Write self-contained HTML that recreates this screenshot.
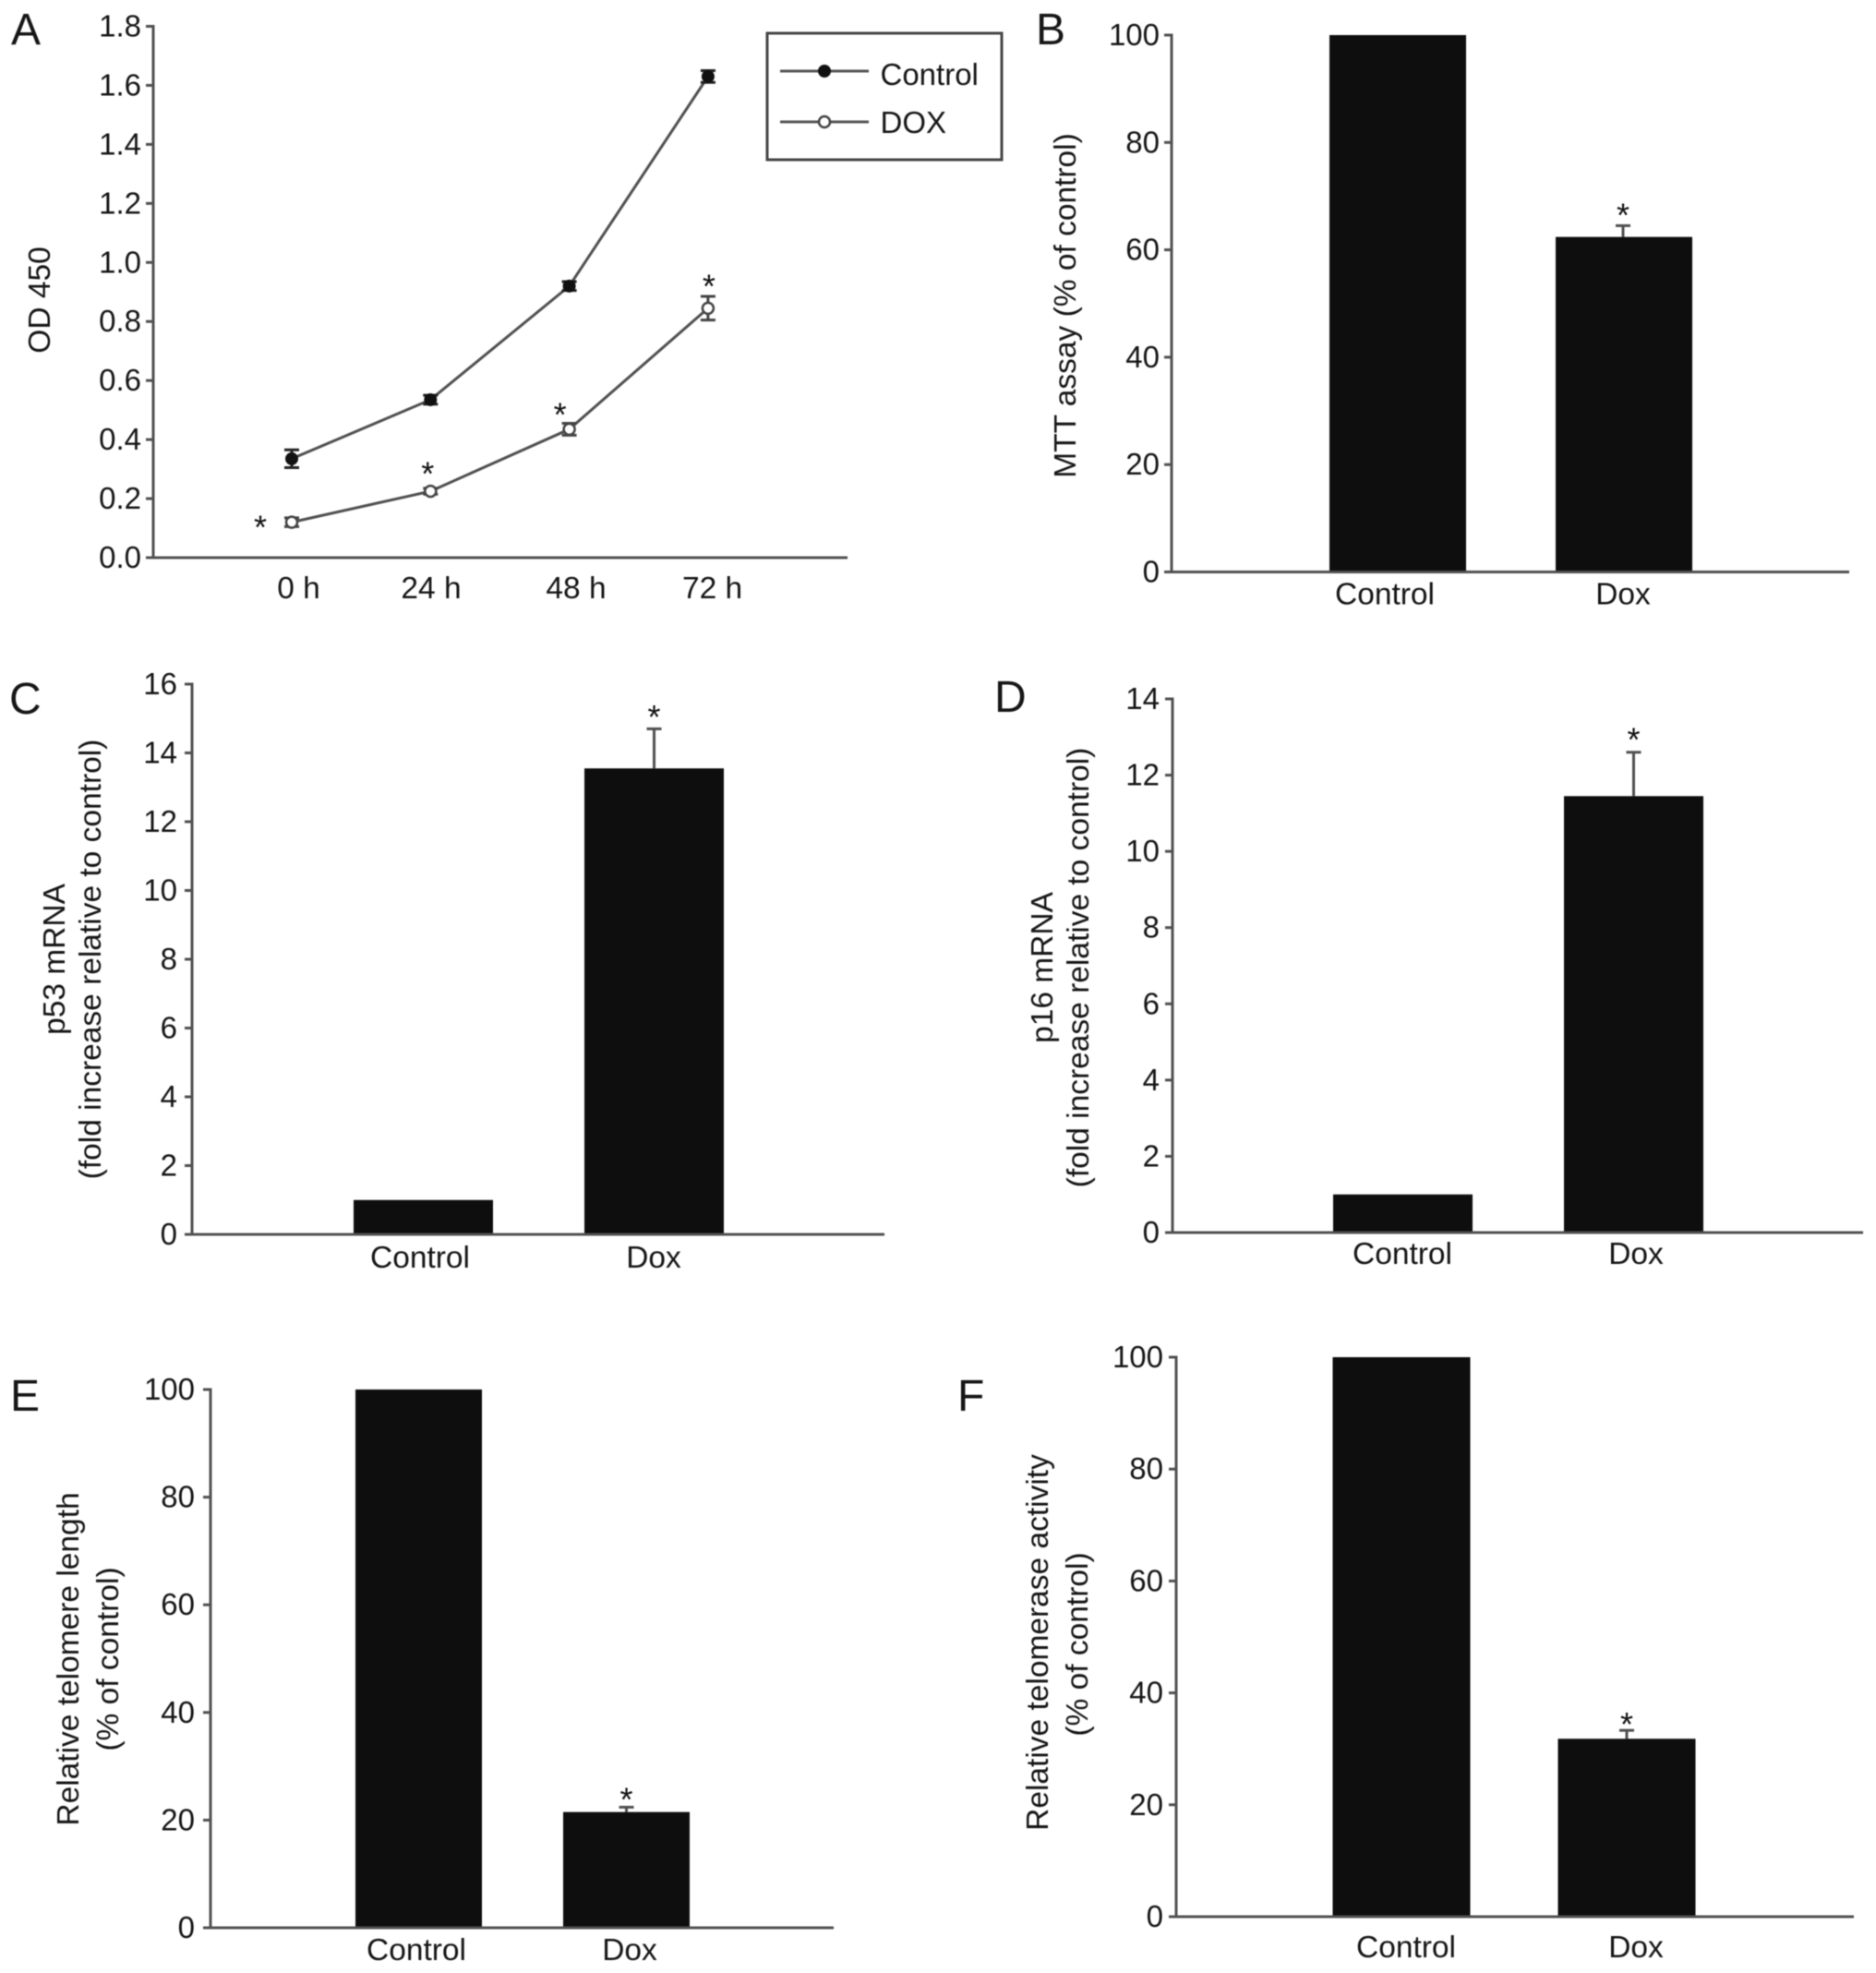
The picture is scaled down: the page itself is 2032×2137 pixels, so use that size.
<!DOCTYPE html>
<html lang="en">
<head>
<meta charset="utf-8">
<title>Doxorubicin assay figure panels A-F</title>
<style>
html,body{margin:0;padding:0;background:#fff;width:2032px;height:2137px;overflow:hidden}
svg{display:block;filter:blur(0.6px)}
text{font-family:"Liberation Sans",Arial,sans-serif;fill:#161616}
.tick{font-size:33px}
.title{font-size:33.5px;text-anchor:middle}
.letter{font-size:48px}
.cat{font-size:33.5px;text-anchor:middle}
.star{font-size:36px;text-anchor:middle;fill:#111}
</style>
</head>
<body>
<svg id="figure" xmlns="http://www.w3.org/2000/svg" width="2032" height="2137" viewBox="0 0 2032 2137">
  <rect x="0" y="0" width="2032" height="2137" fill="#fff"/>

  <g id="panel-a">
    <text class="letter" x="12" y="48">A</text>
    <text class="title" transform="translate(54,325) rotate(-90)">OD 450</text>
    <g>
      <rect x="831" y="36" width="254" height="137" fill="#fff" stroke="#444" stroke-width="3"/>
      <line x1="845" y1="77" x2="941" y2="77" stroke="#555" stroke-width="3"/>
      <circle cx="893" cy="77" r="7" fill="#111"/>
      <text x="953.5" y="92" font-size="33">Control</text>
      <line x1="845" y1="132" x2="941" y2="132" stroke="#555" stroke-width="3"/>
      <circle cx="893" cy="132" r="6" fill="#fff" stroke="#444" stroke-width="2.5"/>
      <text x="953.5" y="144" font-size="33">DOX</text>
    </g>
  </g>

  <g id="panel-b">
    <text class="letter" x="1122" y="48">B</text>
    <text class="title" transform="translate(1165,331) rotate(-90)">MTT assay (% of control)</text>
  </g>

  <g id="panel-c">
    <text class="letter" x="10" y="773">C</text>
    <text class="title" transform="translate(70,1039) rotate(-90)">p53 mRNA</text>
    <text class="title" transform="translate(109,1039) rotate(-90)">(fold increase relative to control)</text>
  </g>

  <g id="panel-d">
    <text class="letter" x="1077" y="771">D</text>
    <text class="title" transform="translate(1140,1048) rotate(-90)">p16 mRNA</text>
    <text class="title" transform="translate(1179,1048) rotate(-90)">(fold increase relative to control)</text>
  </g>

  <g id="panel-e">
    <text class="letter" x="11" y="1528">E</text>
    <text class="title" transform="translate(85,1797) rotate(-90)">Relative telomere length</text>
    <text class="title" transform="translate(128,1797) rotate(-90)">(% of control)</text>
  </g>

  <g id="panel-f">
    <text class="letter" x="1037" y="1528">F</text>
    <text class="title" transform="translate(1135,1779) rotate(-90)">Relative telomerase activity</text>
    <text class="title" transform="translate(1178,1781) rotate(-90)">(% of control)</text>
  </g>
</svg>

<script>
// Panel A data
const timeCategories = ['0 h', '24 h', '48 h', '72 h'];
const controlValues = [0.335, 0.535, 0.92, 1.63];
const controlErrors = [0.03, 0.015, 0.015, 0.02];
const doxValues = [0.12, 0.225, 0.435, 0.845];
const doxErrors = [0.015, 0.01, 0.02, 0.04];
const panelATickLabels = ['0.0', '0.2', '0.4', '0.6', '0.8', '1.0', '1.2', '1.4', '1.6', '1.8'];

// Bar panels data
const barCategoriesB = ['Control', 'Dox'];
const barValuesB = [100, 62.4];
const barErrorsB = [0, 2.1];
const barStarsB = ['', '*'];
const tickLabelsB = ['0', '20', '40', '60', '80', '100'];

const barCategoriesC = ['Control', 'Dox'];
const barValuesC = [1, 13.55];
const barErrorsC = [0, 1.15];
const barStarsC = ['', '*'];
const tickLabelsC = ['0', '2', '4', '6', '8', '10', '12', '14', '16'];

const barCategoriesD = ['Control', 'Dox'];
const barValuesD = [1, 11.45];
const barErrorsD = [0, 1.15];
const barStarsD = ['', '*'];
const tickLabelsD = ['0', '2', '4', '6', '8', '10', '12', '14'];

const barCategoriesE = ['Control', 'Dox'];
const barValuesE = [100, 21.5];
const barErrorsE = [0, 0.9];
const barStarsE = ['', '*'];
const tickLabelsE = ['0', '20', '40', '60', '80', '100'];

const barCategoriesF = ['Control', 'Dox'];
const barValuesF = [100, 31.8];
const barErrorsF = [0, 1.5];
const barStarsF = ['', '*'];
const tickLabelsF = ['0', '20', '40', '60', '80', '100'];

const SVG_NS = 'http://www.w3.org/2000/svg';
const AXIS_COLOR = '#505050';

function mk(parent, tag, attrs, text) {
  const el = document.createElementNS(SVG_NS, tag);
  for (const k in attrs) el.setAttribute(k, attrs[k]);
  if (text !== undefined) el.textContent = text;
  parent.appendChild(el);
  return el;
}

function linearY(layout, maxValue) {
  return function (v) {
    return layout.y0 + (layout.yTop - layout.y0) * (v / maxValue);
  };
}

function drawYAxis(parent, prefix, layout, tickLabels, yScale) {
  const axis = mk(parent, 'line', { x1: layout.axisX, y1: layout.yTop - 1.5, x2: layout.axisX, y2: layout.y0, stroke: AXIS_COLOR, 'stroke-width': 3 });
  
  
  tickLabels.forEach(function (label) {
    const v = parseFloat(label);
    const y = yScale(v);
    const tick = mk(parent, 'line', { x1: layout.axisX - 8, y1: y, x2: layout.axisX, y2: y, stroke: AXIS_COLOR, 'stroke-width': 3 });
    
    
    const text = mk(parent, 'text', { class: 'tick', x: layout.axisX - layout.tickGap, y: y + 11, 'text-anchor': 'end' }, label);
    
    
  });
}

function drawXAxisLine(parent, prefix, layout) {
  const axis = mk(parent, 'line', { x1: layout.xStart, y1: layout.y0, x2: layout.xEnd, y2: layout.y0, stroke: AXIS_COLOR, 'stroke-width': 3 });
  
  
}

function drawBars(prefix, layout, categories, values, errors, stars, tickLabels) {
  const parent = document.getElementById(prefix);
  const maxValue = parseFloat(tickLabels[tickLabels.length - 1]);
  const yScale = linearY(layout, maxValue);

  categories.forEach(function (cat, i) {
    const left = layout.barLeft[i];
    const cx = left + layout.barWidth / 2 + layout.errShift;
    const slug = cat.toLowerCase();
    if (errors[i] > 0) {
      const top = yScale(values[i] + errors[i]);
      const stem = mk(parent, 'line', { x1: cx, y1: yScale(values[i]), x2: cx, y2: top, stroke: AXIS_COLOR, 'stroke-width': 3 });
      
      
      const cap = mk(parent, 'line', { x1: cx - 8, y1: top, x2: cx + 8, y2: top, stroke: AXIS_COLOR, 'stroke-width': 3 });
      
      
    }
    const yTop = yScale(values[i]);
    const bar = mk(parent, 'rect', { x: left, y: yTop, width: layout.barWidth, height: layout.y0 - yTop, fill: '#0e0e0e' });
    
    
    if (stars[i]) {
      const star = mk(parent, 'text', { class: 'star', x: cx, y: yScale(values[i] + errors[i]) - layout.starGap + 21 }, stars[i]);
      
      
    }
    const label = mk(parent, 'text', { class: 'cat', x: layout.labelX[i], y: layout.labelY }, cat);
    
    
  });
  drawYAxis(parent, prefix, layout, tickLabels, yScale);
  drawXAxisLine(parent, prefix, layout);
}

function drawLinePanel() {
  const prefix = 'panel-a';
  const parent = document.getElementById(prefix);
  const layout = {
    axisX: 166, y0: 604, yTop: 28.5, xStart: 160, xEnd: 918, tickGap: 13,
    pointX0: 316, pointStep: 150.3, labelY: 648, labelShift: [7.5, 0.7, 7.4, 4.7],
    starDx: [-34, -3, -10, 1], starDy: [-3, -27.5, -24.5, -32.5]
  };
  const maxValue = parseFloat(panelATickLabels[panelATickLabels.length - 1]);
  const yScale = linearY(layout, maxValue);
  const xScale = function (i) { return layout.pointX0 + layout.pointStep * i; };

  function drawSeries(name, values, errors, filled) {
    const d = values.map(function (v, i) { return xScale(i) + ',' + yScale(v); }).join(' ');
    const line = mk(parent, 'polyline', { points: d, fill: 'none', stroke: AXIS_COLOR, 'stroke-width': 3 });
    
    
    values.forEach(function (v, i) {
      const x = xScale(i);
      const hi = yScale(v + errors[i]);
      const lo = yScale(v - errors[i]);
      const err = mk(parent, 'path', { d: 'M' + (x - 8) + ' ' + hi + 'H' + (x + 8) + 'M' + x + ' ' + hi + 'V' + lo + 'M' + (x - 8) + ' ' + lo + 'H' + (x + 8), fill: 'none', stroke: filled ? '#222' : '#444', 'stroke-width': 3 });
      
      
      const dot = mk(parent, 'circle', { cx: x, cy: yScale(v), r: filled ? 7 : 6, fill: filled ? '#111' : '#fff', stroke: filled ? 'none' : '#444', 'stroke-width': 2.5 });
      
      
    });
  }
  drawSeries('control', controlValues, controlErrors, true);
  drawSeries('dox', doxValues, doxErrors, false);

  // Significance stars sit next to / above each DOX point.
  doxValues.forEach(function (v, i) {
    const star = mk(parent, 'text', { class: 'star', x: xScale(i) + layout.starDx[i], y: yScale(v) + layout.starDy[i] + 21 }, '*');
    
    
  });

  timeCategories.forEach(function (cat, i) {
    const label = mk(parent, 'text', { class: 'cat', x: xScale(i) + layout.labelShift[i], y: layout.labelY }, cat);
    
    
  });
  drawYAxis(parent, prefix, layout, panelATickLabels, yScale);
  drawXAxisLine(parent, prefix, layout);
}

drawLinePanel();

drawBars('panel-b',
  { axisX: 1269, y0: 619.5, yTop: 38, xStart: 1262, xEnd: 2003, tickGap: 13, barLeft: [1440, 1685], barWidth: 148, errShift: -1, starGap: 20, labelX: [1500, 1758], labelY: 654.5 },
  barCategoriesB, barValuesB, barErrorsB, barStarsB, tickLabelsB);

drawBars('panel-c',
  { axisX: 208, y0: 1337, yTop: 741, xStart: 201, xEnd: 958, tickGap: 16, barLeft: [383, 633], barWidth: 151, errShift: 0, starGap: 21.5, labelX: [455, 708], labelY: 1373 },
  barCategoriesC, barValuesC, barErrorsC, barStarsC, tickLabelsC);

drawBars('panel-d',
  { axisX: 1270, y0: 1335, yTop: 757, xStart: 1262, xEnd: 2018, tickGap: 14, barLeft: [1444, 1694], barWidth: 151, errShift: 0, starGap: 22.5, labelX: [1519, 1772], labelY: 1369 },
  barCategoriesD, barValuesD, barErrorsD, barStarsD, tickLabelsD);

drawBars('panel-e',
  { axisX: 228, y0: 2088, yTop: 1505, xStart: 221, xEnd: 903, tickGap: 17, barLeft: [385, 610], barWidth: 137, errShift: 0, starGap: 17, labelX: [451, 682], labelY: 2123 },
  barCategoriesE, barValuesE, barErrorsE, barStarsE, tickLabelsE);

drawBars('panel-f',
  { axisX: 1274, y0: 2076, yTop: 1470, xStart: 1266, xEnd: 2008, tickGap: 14, barLeft: [1443.5, 1687.5], barWidth: 149, errShift: 0, starGap: 15, labelX: [1523, 1772], labelY: 2120 },
  barCategoriesF, barValuesF, barErrorsF, barStarsF, tickLabelsF);
</script>
</body>
</html>
